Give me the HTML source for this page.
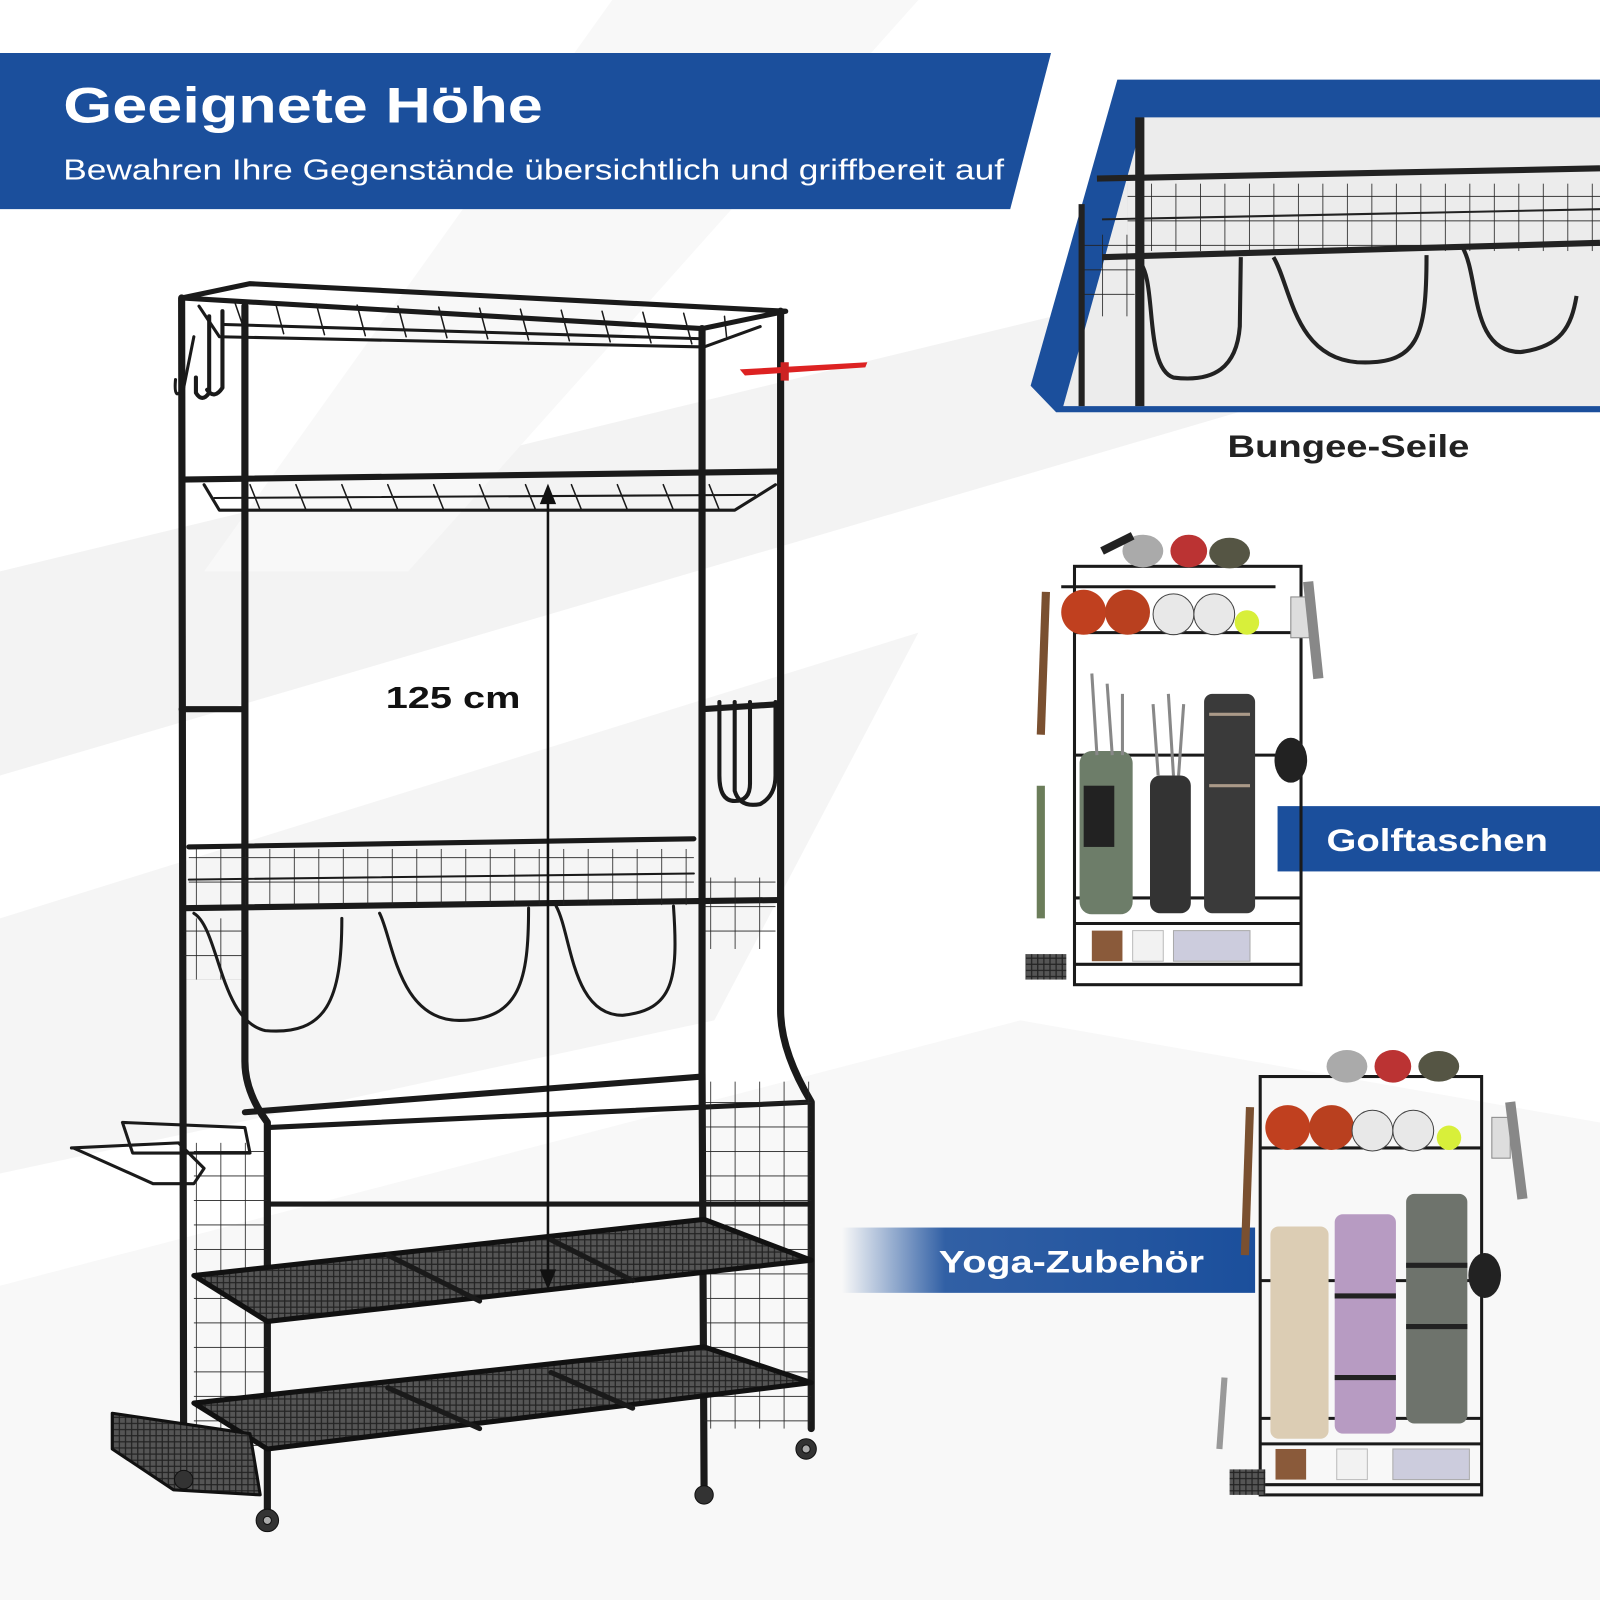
<!DOCTYPE html>
<html><head><meta charset="utf-8"><style>
html,body{margin:0;padding:0;background:#fff}
svg{display:block}
text{font-family:"Liberation Sans","DejaVu Sans",sans-serif}
</style></head><body>
<svg width="1600" height="1600" viewBox="0 0 1568 1568" xmlns="http://www.w3.org/2000/svg">
<defs>
<linearGradient id="yg" x1="0" x2="1" y1="0" y2="0">
<stop offset="0" stop-color="#1b4f9c" stop-opacity="0"/>
<stop offset="0.25" stop-color="#1b4f9c" stop-opacity="0.9"/>
<stop offset="1" stop-color="#1b4f9c"/>
</linearGradient>
<pattern id="mesh" width="6" height="6" patternUnits="userSpaceOnUse">
<rect width="6" height="6" fill="#555"/><path d="M0 3H6M3 0V6" stroke="#222" stroke-width="1.2"/>
</pattern>
<pattern id="grid" width="24" height="24" patternUnits="userSpaceOnUse">
<path d="M0 0H24M0 0V24" stroke="#222" stroke-width="1.6" fill="none"/>
</pattern>
</defs>
<rect width="1568" height="1568" fill="#ffffff"/>
<!-- background streaks -->
<polygon points="0,560 1568,180 1568,300 0,760" fill="#f3f3f3"/>
<polygon points="0,900 900,620 700,1000 0,1150" fill="#f5f5f5"/>
<polygon points="0,1260 1000,1000 1568,1100 1568,1568 0,1568" fill="#f8f8f8"/>
<polygon points="600,0 900,0 400,560 200,560" fill="#f8f8f8"/>

<!-- main banner -->
<polygon points="0,52 1030,52 990,205 0,205" fill="#1b4f9c"/>
<text x="62" y="120" fill="#fff" font-size="49" font-weight="bold" textLength="470" lengthAdjust="spacingAndGlyphs">Geeignete Höhe</text>
<text x="62" y="176" fill="#fff" font-size="28" textLength="922" lengthAdjust="spacingAndGlyphs">Bewahren Ihre Gegenstände übersichtlich und griffbereit auf</text>

<!-- inset top-right -->
<polygon points="1095,78 1568,78 1568,404 1035,404 1010,378" fill="#1b4f9c"/>
<polygon points="1121,115 1568,115 1568,398 1042,398" fill="#ececec"/>
<g stroke="#222" fill="none">
<line x1="1117" y1="115" x2="1117" y2="398" stroke-width="9"/>
<line x1="1075" y1="175" x2="1568" y2="165" stroke-width="6"/>
<line x1="1080" y1="252" x2="1568" y2="238" stroke-width="6"/>
<rect x="1105" y="180" width="463" height="66" fill="url(#grid)" stroke="none"/>
<line x1="1080" y1="215" x2="1568" y2="205" stroke-width="2"/>
<line x1="1060" y1="200" x2="1060" y2="398" stroke-width="6"/>
<rect x="1062" y="230" width="50" height="80" fill="url(#grid)" stroke="none"/>
<path d="M1115 255 C1135 270 1120 360 1150 370 C1190 375 1212 360 1215 320 L1216 252" stroke-width="4"/>
<path d="M1248 252 C1265 280 1268 350 1330 355 C1390 358 1398 330 1398 250" stroke-width="4"/>
<path d="M1433 242 C1450 270 1440 345 1490 345 C1530 340 1540 320 1545 290" stroke-width="4"/>
</g>
<text x="1203" y="448" fill="#222" font-size="31" font-weight="bold" textLength="237" lengthAdjust="spacingAndGlyphs">Bungee-Seile</text>

<!-- Golftaschen bar -->
<rect x="1252" y="790" width="316" height="64" fill="#1b4f9c"/>
<text x="1300" y="834" fill="#fff" font-size="31" font-weight="bold" textLength="217" lengthAdjust="spacingAndGlyphs">Golftaschen</text>

<!-- Yoga bar -->
<rect x="825" y="1203" width="405" height="64" fill="url(#yg)"/>
<text x="920" y="1247" fill="#fff" font-size="31" font-weight="bold" textLength="260" lengthAdjust="spacingAndGlyphs">Yoga-Zubehör</text>

<!-- MAIN RACK -->
<g stroke="#1a1a1a" fill="none" stroke-linecap="round" stroke-linejoin="round">
<path d="M178 292 L180 1440" stroke-width="7"/>
<path d="M240 300 L240 1040 Q240 1070 262 1100 L262 1480" stroke-width="7"/>
<path d="M688 322 L688 1050 L690 1460" stroke-width="7"/>
<path d="M765 305 L765 990 Q765 1030 795 1080 L795 1400" stroke-width="7"/>
<path d="M178 292 L245 278 L770 305 L688 322 Z" stroke-width="5"/>
<path d="M195 300 L215 330 L690 340 L745 320" stroke-width="3"/>
<path d="M220 318 L688 332" stroke-width="3"/>
<g stroke-width="1.5">
<path d="M230 296 L240 325 M270 297 L278 327 M310 298 L318 328 M350 299 L358 329 M390 300 L398 330 M430 301 L438 331 M470 302 L478 332 M510 303 L518 333 M550 304 L558 334 M590 305 L598 335 M630 306 L638 336 M670 307 L678 337 M710 310 L712 330"/>
</g>
<path d="M205 310 L205 385 Q198 395 192 385 L192 370" stroke-width="4"/>
<path d="M218 305 L218 380 Q210 392 203 382" stroke-width="4"/>
<path d="M190 330 L180 380 Q170 395 172 372" stroke-width="3"/>
<path d="M178 470 L765 462" stroke-width="6"/>
<path d="M200 475 L215 500 L720 500 L760 475" stroke-width="3"/>
<path d="M210 488 L740 485" stroke-width="2"/>
<g stroke-width="1.5"><path d="M245 475 L255 500 M290 475 L300 500 M335 475 L345 500 M380 475 L390 500 M425 475 L435 500 M470 475 L480 500 M515 475 L525 500 M560 475 L570 500 M605 475 L615 500 M650 475 L660 500 M695 475 L705 500"/></g>
<path d="M178 695 L240 695" stroke-width="6"/>
<path d="M688 695 L765 690" stroke-width="6"/>
<path d="M705 688 L705 760 Q705 785 720 785 Q735 785 735 768 L735 688" stroke-width="4"/>
<path d="M720 688 L720 775 Q725 792 745 788 Q760 780 760 760 L760 688" stroke-width="4"/>
<path d="M185 830 L680 822" stroke-width="5"/>
<path d="M180 890 L765 882" stroke-width="6"/>
<rect x="185" y="832" width="495" height="55" fill="url(#grid)" stroke="none"/>
<path d="M185 862 L680 856" stroke-width="2"/>
<rect x="690" y="860" width="70" height="70" fill="url(#grid)" stroke="none"/>
<rect x="180" y="900" width="58" height="60" fill="url(#grid)" stroke="none"/>
<path d="M190 895 C215 910 215 1000 260 1010 C320 1015 335 980 335 900" stroke-width="3"/>
<path d="M372 895 C385 920 390 1000 450 1000 C510 1000 518 960 518 890" stroke-width="3"/>
<path d="M545 888 C560 915 560 995 610 995 C660 990 665 960 660 888" stroke-width="3"/>
<path d="M240 1090 L688 1055" stroke-width="6"/>
<path d="M262 1105 L795 1080" stroke-width="5"/>
<rect x="690" y="1060" width="105" height="340" fill="url(#grid)" stroke="none"/>
<rect x="190" y="1120" width="72" height="300" fill="url(#grid)" stroke="none"/>
<path d="M70 1125 L175 1120 L200 1145 L190 1160 L150 1160 L72 1125 Z" stroke-width="3"/>
<path d="M120 1100 L240 1105 L245 1130 L130 1130 Z" stroke-width="3"/>
<polygon points="190,1250 690,1195 795,1235 262,1295" fill="url(#mesh)" stroke="#111" stroke-width="5"/>
<path d="M262 1180 L795 1180" stroke-width="5"/>
<path d="M380 1230 L470 1275 M540 1215 L620 1255" stroke-width="5"/>
<polygon points="190,1375 690,1320 795,1355 262,1420" fill="url(#mesh)" stroke="#111" stroke-width="5"/>
<path d="M380 1360 L470 1400 M540 1345 L620 1380" stroke-width="5"/>
<polygon points="110,1385 245,1405 255,1465 170,1460 110,1420" fill="url(#mesh)" stroke="#111" stroke-width="3"/>
</g>
<g fill="#333" stroke="#111">
<circle cx="262" cy="1490" r="11"/><circle cx="790" cy="1420" r="10"/><circle cx="180" cy="1450" r="9"/><circle cx="690" cy="1465" r="9"/>
<circle cx="262" cy="1490" r="4" fill="#aaa"/><circle cx="790" cy="1420" r="4" fill="#aaa"/>
</g>
<path d="M725 362 L850 355 L848 360 L730 368 Z" fill="#d22" />
<rect x="765" y="355" width="8" height="18" fill="#c22"/>
<line x1="537" y1="490" x2="537" y2="1248" stroke="#111" stroke-width="2.5"/>
<polygon points="537,474 529,494 545,494" fill="#111"/>
<polygon points="537,1264 529,1244 545,1244" fill="#111"/>
<text x="378" y="694" fill="#111" font-size="30" font-weight="bold" textLength="132" lengthAdjust="spacingAndGlyphs">125 cm</text>

<!-- SMALL RACK 1 (golf) -->
<g stroke="#1a1a1a" fill="none" stroke-width="3">
<rect x="1053" y="555" width="222" height="410"/>
<path d="M1053 620 L1275 620 M1053 740 L1275 740 M1053 880 L1275 880 M1053 905 L1275 905 M1053 945 L1275 945"/>
<path d="M1040 575 L1250 575"/>
</g>
<g>
<circle cx="1062" cy="600" r="22" fill="#c0401f"/><circle cx="1105" cy="600" r="22" fill="#b9401f"/>
<circle cx="1150" cy="602" r="20" fill="#e8e8e8" stroke="#444"/><circle cx="1190" cy="602" r="20" fill="#e8e8e8" stroke="#444"/>
<circle cx="1222" cy="610" r="12" fill="#d8ef3a"/>
<ellipse cx="1120" cy="540" rx="20" ry="16" fill="#aaa"/><ellipse cx="1165" cy="540" rx="18" ry="16" fill="#b33"/><ellipse cx="1205" cy="542" rx="20" ry="15" fill="#554"/>
<path d="M1080 540 L1110 525" stroke="#222" stroke-width="8"/>
<rect x="1058" y="736" width="52" height="160" rx="12" fill="#6d7d69"/>
<rect x="1062" y="770" width="30" height="60" fill="#222"/>
<rect x="1127" y="760" width="40" height="135" rx="10" fill="#333"/>
<rect x="1180" y="680" width="50" height="215" rx="8" fill="#3a3a3a"/>
<path d="M1185 700 L1225 700 M1185 770 L1225 770" stroke="#a98" stroke-width="3"/>
<path d="M1130 690 L1135 760 M1145 680 L1150 760 M1160 690 L1155 760 M1070 660 L1075 740 M1085 670 L1090 740 M1100 680 L1100 740" stroke="#888" stroke-width="3"/>
<path d="M1025 580 L1020 720" stroke="#7a5030" stroke-width="8"/>
<rect x="1265" y="585" width="18" height="40" fill="#ddd" stroke="#888"/>
<path d="M1282 570 L1292 665" stroke="#888" stroke-width="10"/>
<ellipse cx="1265" cy="745" rx="16" ry="22" fill="#222"/>
<rect x="1070" y="912" width="30" height="30" fill="#8a5a3a"/><rect x="1110" y="912" width="30" height="30" fill="#f2f2f2" stroke="#bbb"/><rect x="1150" y="912" width="75" height="30" fill="#ccd" stroke="#aaa"/>
<path d="M1020 770 L1020 900" stroke="#6b7d5a" stroke-width="8"/>
<rect x="1005" y="935" width="40" height="25" fill="url(#mesh)"/>
</g>

<!-- SMALL RACK 2 (yoga) -->
<g stroke="#1a1a1a" fill="none" stroke-width="3">
<rect x="1235" y="1055" width="217" height="410"/>
<path d="M1235 1125 L1452 1125 M1235 1255 L1452 1255 M1235 1390 L1452 1390 M1235 1415 L1452 1415 M1235 1455 L1452 1455"/>
</g>
<g>
<circle cx="1262" cy="1105" r="22" fill="#c0401f"/><circle cx="1305" cy="1105" r="22" fill="#b9401f"/>
<circle cx="1345" cy="1108" r="20" fill="#e8e8e8" stroke="#444"/><circle cx="1385" cy="1108" r="20" fill="#e8e8e8" stroke="#444"/>
<circle cx="1420" cy="1115" r="12" fill="#d8ef3a"/>
<ellipse cx="1320" cy="1045" rx="20" ry="16" fill="#aaa"/><ellipse cx="1365" cy="1045" rx="18" ry="16" fill="#b33"/><ellipse cx="1410" cy="1045" rx="20" ry="15" fill="#554"/>
<rect x="1245" y="1202" width="57" height="208" rx="8" fill="#dccdb4"/>
<rect x="1308" y="1190" width="60" height="215" rx="8" fill="#b79bc2"/>
<rect x="1378" y="1170" width="60" height="225" rx="8" fill="#6e736c"/>
<path d="M1308 1270 L1368 1270 M1308 1350 L1368 1350 M1378 1240 L1438 1240 M1378 1300 L1438 1300" stroke="#222" stroke-width="5"/>
<path d="M1225 1085 L1220 1230" stroke="#7a5030" stroke-width="8"/>
<rect x="1462" y="1095" width="18" height="40" fill="#ddd" stroke="#888"/>
<path d="M1480 1080 L1492 1175" stroke="#888" stroke-width="10"/>
<ellipse cx="1455" cy="1250" rx="16" ry="22" fill="#222"/>
<rect x="1250" y="1420" width="30" height="30" fill="#8a5a3a"/><rect x="1310" y="1420" width="30" height="30" fill="#f2f2f2" stroke="#bbb"/><rect x="1365" y="1420" width="75" height="30" fill="#ccd" stroke="#aaa"/>
<path d="M1200 1350 L1195 1420" stroke="#999" stroke-width="6"/>
<rect x="1205" y="1440" width="35" height="25" fill="url(#mesh)"/>
</g>
</svg>
</body></html>
